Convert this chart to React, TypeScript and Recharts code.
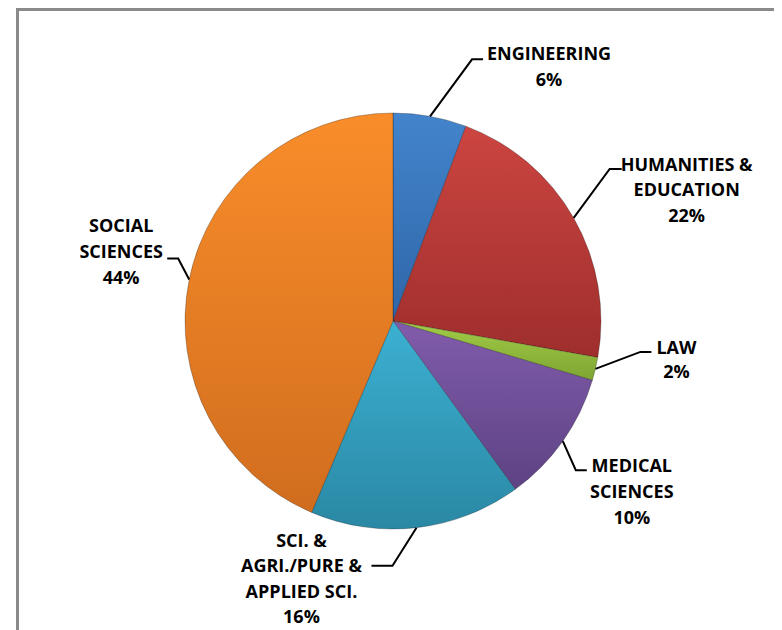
import React from 'react';
import { PieChart, Pie, Cell } from 'recharts';

// Shares (labels show them rounded)
const categories = [
  'ENGINEERING',
  'HUMANITIES &\nEDUCATION',
  'LAW',
  'MEDICAL\nSCIENCES',
  'SCI. &\nAGRI./PURE &\nAPPLIED SCI.',
  'SOCIAL\nSCIENCES',
];
const shares = [5.7, 22.1, 1.8, 10.4, 16.4, 43.6];

// gradient stops per slice: [light, dark]
const sliceColors = [
  ['#4384cc', '#2f66a8'],
  ['#cc4541', '#9e2e2c'],
  ['#a2cc48', '#7ea532'],
  ['#815cab', '#5d4284'],
  ['#3cb0d2', '#2a88a4'],
  ['#f98d2a', '#d06d1e'],
];

// leader line + text placement for each label, relative to slice edge
// [elbowDx, elbowDy, horizontal, textDx, baselineDy, lineHeight]
const labelLayout = [
  [42, -57, 11, 66, 1, 26],
  [36, -49, 12, 65, 2, 25.5],
  [45, -17, 11, 25, 2, 24],
  [13, 29, 11, 45, 2, 26],
  [-24, 38, -21, -70, -19, 25.5],
  [-11, -21, -11, -46, -26, 26],
];

const data = categories.map((name, i) => ({ name, value: shares[i] }));

const RADIAN = Math.PI / 180;

const renderLabel = (props: any) => {
  const { cx, cy, midAngle, outerRadius, index, percent, name } = props;
  const [ex, ey, h, tx, by, lh] = labelLayout[index];
  const x0 = cx + outerRadius * Math.cos(-midAngle * RADIAN);
  const y0 = cy + outerRadius * Math.sin(-midAngle * RADIAN);
  const x1 = x0 + ex;
  const y1 = y0 + ey;
  const x2 = x1 + h;
  const lines = [...String(name).split('\n'), `${Math.round(percent * 100)}%`];
  return (
    <g key={`lbl-${index}`}>
      <polyline
        points={`${x0},${y0} ${x1},${y1} ${x2},${y1}`}
        fill="none"
        stroke="#000"
        strokeWidth={2}
      />
      <text
        x={x2 + tx}
        y={y1 + by}
        textAnchor="middle"
        fontFamily="'Open Sans', sans-serif"
        fontWeight={700}
        fontSize={18}
        fill="#000"
      >
        {lines.map((l, i) => (
          <tspan key={i} x={x2 + tx} y={y1 + by + i * lh}>
            {l}
          </tspan>
        ))}
      </text>
    </g>
  );
};

export default function App() {
  return (
    <div style={{ position: 'relative', width: 774, height: 622, background: '#fff' }}>
      <div
        style={{
          position: 'absolute',
          left: 8,
          top: 0,
          width: 780,
          height: 640,
          borderTop: '3px solid #8a8a8a',
          borderLeft: '3px solid #8a8a8a',
          boxSizing: 'border-box',
        }}
      />
      <PieChart
        width={774}
        height={622}
        margin={{ top: 0, right: 0, bottom: 0, left: 0 }}
        style={{ position: 'absolute', left: 0, top: 0 }}
      >
        <defs>
          {sliceColors.map((c, i) => (
            <linearGradient key={i} id={`slice-${i}`} x1="0" y1="0" x2="0" y2="1">
              <stop offset="0%" stopColor={c[0]} />
              <stop offset="100%" stopColor={c[1]} />
            </linearGradient>
          ))}
        </defs>
        <Pie
          data={data}
          dataKey="value"
          nameKey="name"
          cx={385}
          cy={313}
          outerRadius={208}
          startAngle={90}
          endAngle={-270}
          stroke="rgba(0,0,0,0.25)"
          strokeWidth={1}
          label={renderLabel}
          labelLine={false}
          isAnimationActive={false}
        >
          {data.map((d, i) => (
            <Cell key={d.name} fill={`url(#slice-${i})`} />
          ))}
        </Pie>
      </PieChart>
    </div>
  );
}
